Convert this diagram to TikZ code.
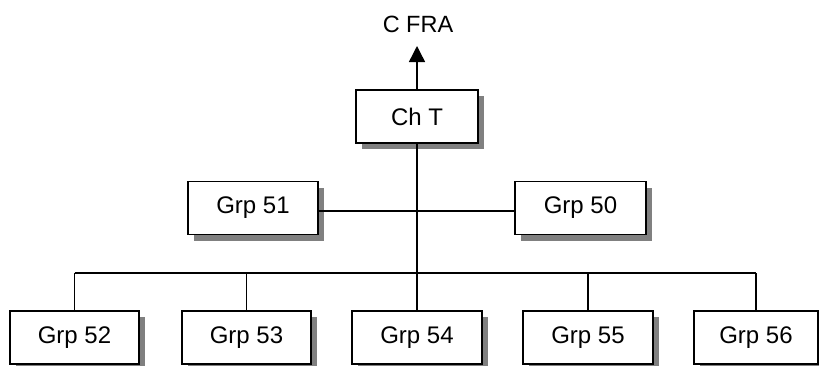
\documentclass[tikz,border=0pt]{standalone}
\usepackage{fontspec}
\setmainfont{Liberation Sans}
\usetikzlibrary{shadows,arrows.meta}
\begin{document}
\begin{tikzpicture}[x=1pt,y=-1pt,
  box/.style={draw=black,fill=white,line width=1.4pt,minimum height=53pt,inner sep=0pt,
    font=\fontsize{24}{24}\selectfont,
    drop shadow={shadow xshift=6pt,shadow yshift=-6pt,fill=black!50,opacity=1}},
  conn/.style={line width=1.4pt},
  lbl/.style={font=\fontsize{23.5}{23.5}\selectfont,inner sep=0pt}]
\useasboundingbox (0,0) rectangle (819,365);
\node[lbl] (cfra) at (418,24) {C FRA};
\coordinate (tip) at (417,46);
\node[box,minimum width=122pt] (chT) at (417,116.5) {Ch T};
\node[box,minimum width=130pt] (g51) at (253,208) {Grp 51};
\node[box,minimum width=131pt] (g50) at (580.5,208) {Grp 50};
\node[box,minimum width=129pt] (g52) at (74.5,337.5) {Grp 52};
\node[box,minimum width=129pt] (g53) at (246.5,337.5) {Grp 53};
\node[box,minimum width=130pt] (g54) at (417,337.5) {Grp 54};
\node[box,minimum width=130pt] (g55) at (588,337.5) {Grp 55};
\node[box,minimum width=124pt] (g56) at (756,337.5) {Grp 56};
\coordinate (busL) at (74.5,273);
\coordinate (busR) at (756,273);
\coordinate (busC) at (417,273);
\draw[conn,-{Triangle[width=16pt,length=16pt]}] (chT.north) -- (tip);
\draw[conn] (chT.south) -- (busC);
\draw[conn] (g51.east |- 0,211) -- (g50.west |- 0,211);
\draw[conn] (busL) -- (busR);
\foreach \n in {g52,g53,g54,g55,g56}{
  \draw[conn] (\n.north) -- (\n.north |- busC);
}
\end{tikzpicture}
\end{document}
